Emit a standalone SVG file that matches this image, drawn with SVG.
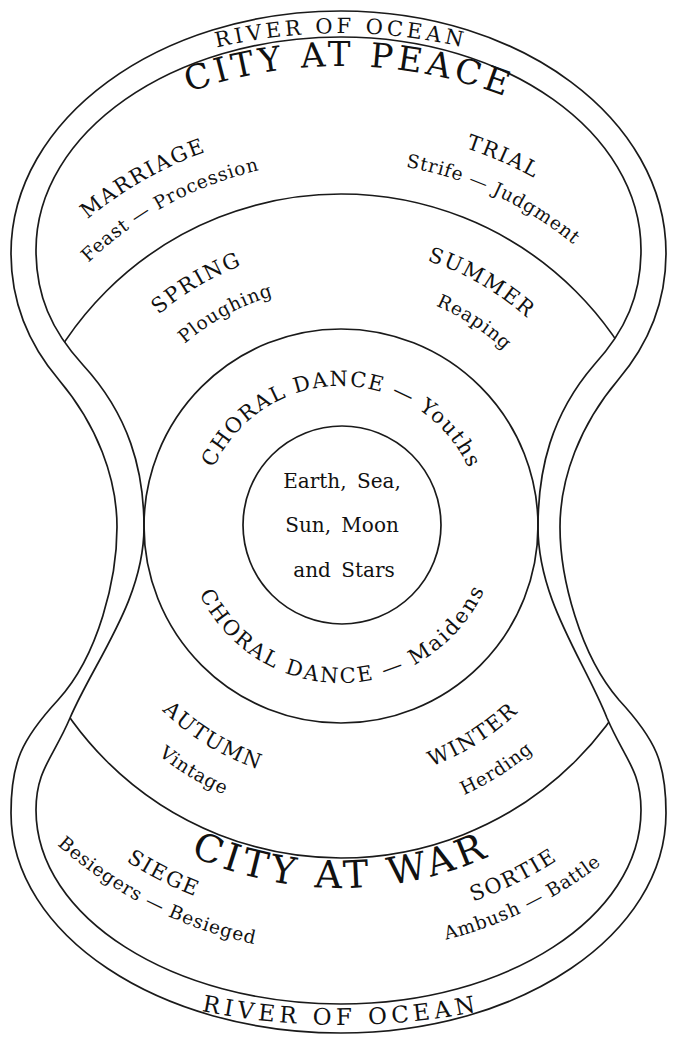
<svg xmlns="http://www.w3.org/2000/svg" width="674" height="1037" viewBox="0 0 674 1037">
<style>
.ln{fill:none;stroke:#1a1a1a;stroke-width:1.7}
text{font-family:"DejaVu Serif","Liberation Serif",serif;fill:#111;text-anchor:middle}
.cap{font-size:21px;letter-spacing:1.8px}
.sub{font-size:18.5px;letter-spacing:0.8px}
.big{font-size:34px;letter-spacing:4px}
.war{font-size:38px;letter-spacing:4.4px}
.riv{font-size:21px;letter-spacing:3.8px}
.rivb{font-size:23px;letter-spacing:4.6px}
.ch{font-size:21px;letter-spacing:1.5px}
.chb{font-size:21px;letter-spacing:2.2px}
.ctr{font-size:20px;word-spacing:4px}
</style>
<defs>
<path id="innerB" d="M341 37 C172.6 37 36 132.4 36 250 C36 295 51 330 83 365 C129 415 144 470 144 527 C144 600 95 660 70 718 C53 758 36 770 36 810 C36 917 172.6 1004 341 1004 C506.7 1004 641 917 641 810 C641 770 624 758 607 718 C584 660 538 600 538 527 C538 470 551 415 594 365 C626 330 641 295 641 250 C641 132.4 506.7 37 341 37 Z"/>
<clipPath id="clipIn"><use href="#innerB"/></clipPath>
<path id="t460" d="M-119 526 A460 460 0 0 1 801 526"/>
<path id="t398" d="M-57 526 A398 398 0 0 1 739 526"/>
<path id="t365" d="M-24 526 A365 365 0 0 1 706 526"/>
<path id="t279" d="M62 526 A279 279 0 0 1 620 526"/>
<path id="t240" d="M101 526 A240 240 0 0 1 581 526"/>
<path id="t140" d="M201 526 A140 140 0 0 1 481 526"/>
<path id="b157" d="M184 526 A157 157 0 0 0 498 526"/>
<path id="b257" d="M84 526 A257 257 0 0 0 598 526"/>
<path id="b293" d="M48 526 A293 293 0 0 0 634 526"/>
<path id="b296" d="M45 526 A296 296 0 0 0 637 526"/>
<path id="b362" d="M-21 526 A362 362 0 0 0 703 526"/>
<path id="b398" d="M-57 526 A398 398 0 0 0 739 526"/>
<path id="b427" d="M-86 526 A427 427 0 0 0 768 526"/>
<path id="rivT" d="M-199 573 A540 540 0 0 1 881 573"/>
<path id="rivB" d="M-359 325 A700 700 0 0 0 1041 325"/>
</defs>
<rect width="674" height="1037" fill="#fff"/>
<g id="shield-lines">
<path id="outer-boundary" class="ln" d="M341 11 C158.7 11 11 119.3 11 253 C11 298 25 340 59 380 C97 425 117 478 117 527 C117 578 99 655 58 700 C21 740 11 763 11 813 C11 934.5 158.7 1033 341 1033 C520.5 1033 666 934.5 666 813 C666 763 656 740 619 700 C580 655 560 578 560 527 C560 478 580 425 618 380 C652 340 666 298 666 253 C666 119.3 520.5 11 341 11 Z"/>
<use id="inner-boundary" href="#innerB" class="ln"/>
<circle id="divider-circle" class="ln" cx="341" cy="526" r="332" clip-path="url(#clipIn)"/>
<circle id="dance-circle" class="ln" cx="341" cy="526" r="197"/>
<circle id="centre-circle" class="ln" cx="342" cy="525" r="99"/>
</g>
<g id="river-labels">
<text class="riv"><textPath href="#rivT" startOffset="50%">RIVER OF OCEAN</textPath></text>
<text class="rivb"><textPath href="#rivB" startOffset="50%">RIVER OF OCEAN</textPath></text>
</g>
<g id="city-at-peace">
<text class="big"><textPath href="#t460" startOffset="50.56%">CITY AT PEACE</textPath></text>
<text class="cap"><textPath href="#t398" startOffset="33.53%">MARRIAGE</textPath></text>
<text class="sub"><textPath href="#t365" startOffset="34.25%">Feast — Procession</textPath></text>
<text class="cap"><textPath href="#t398" startOffset="63.19%">TRIAL</textPath></text>
<text class="sub"><textPath href="#t365" startOffset="63.86%">Strife — Judgment</textPath></text>
</g>
<g id="spring-summer">
<text class="cap"><textPath href="#t279" startOffset="32.94%">SPRING</textPath></text>
<text class="sub"><textPath href="#t240" startOffset="34.17%">Ploughing</textPath></text>
<text class="cap"><textPath href="#t279" startOffset="66.67%">SUMMER</textPath></text>
<text class="sub"><textPath href="#t240" startOffset="68.44%">Reaping</textPath></text>
</g>
<g id="choral-dance">
<text class="ch"><textPath href="#t140" startOffset="50.17%">CHORAL DANCE — Youths</textPath></text>
<text class="chb"><textPath href="#b157" startOffset="50.56%">CHORAL DANCE — Maidens</textPath></text>
</g>
<g id="centre">
<text class="ctr" x="342" y="488">Earth, Sea,</text>
<text class="ctr" x="342" y="532">Sun, Moon</text>
<text class="ctr" x="344" y="577">and Stars</text>
</g>
<g id="autumn-winter">
<text class="cap"><textPath href="#b257" startOffset="32.61%">AUTUMN</textPath></text>
<text class="sub"><textPath href="#b293" startOffset="32.78%">Vintage</textPath></text>
<text class="cap"><textPath href="#b257" startOffset="67.92%">WINTER</textPath></text>
<text class="sub"><textPath href="#b296" startOffset="68.11%">Herding</textPath></text>
</g>
<g id="city-at-war">
<text class="war"><textPath href="#b362" startOffset="50%">CITY AT WAR</textPath></text>
<text class="cap"><textPath href="#b398" startOffset="35%">SIEGE</textPath></text>
<text class="sub"><textPath href="#b427" startOffset="35.19%">Besiegers — Besieged</textPath></text>
<text class="cap"><textPath href="#b398" startOffset="64.58%">SORTIE</textPath></text>
<text class="sub"><textPath href="#b427" startOffset="64.42%">Ambush — Battle</textPath></text>
</g>
</svg>
